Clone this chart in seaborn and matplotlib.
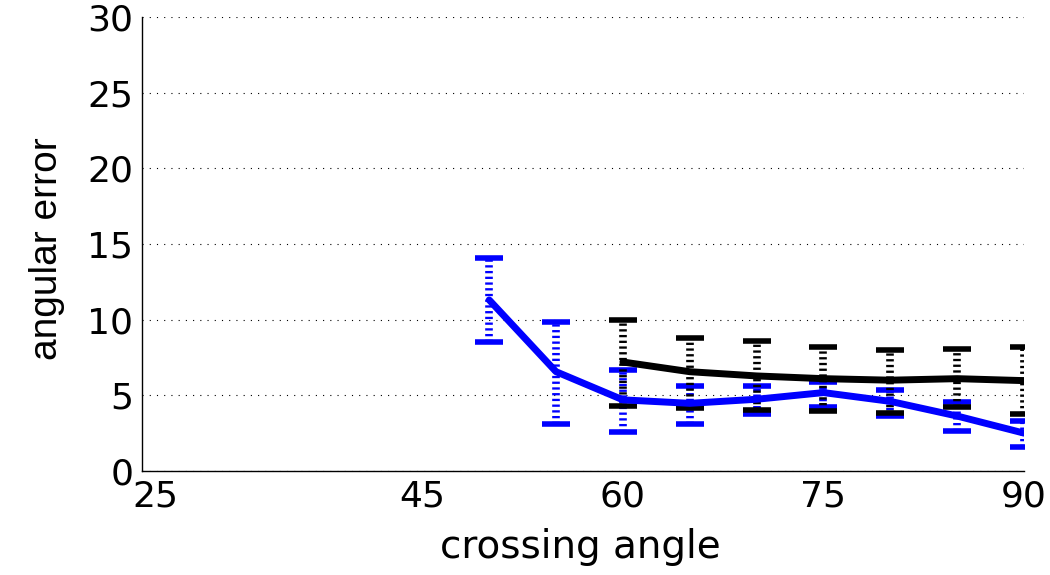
import numpy as np
import pandas as pd
import matplotlib
matplotlib.use('Agg')
import matplotlib.pyplot as plt
import seaborn as sns

# values
blue_x = [50, 55, 60, 65, 70, 75, 80, 85, 90]
blue_mean = [11.3, 6.56, 4.7, 4.47, 4.74, 5.18, 4.6, 3.63, 2.5]
blue_lo = [8.5, 3.13, 2.56, 3.1, 3.75, 4.25, 3.63, 2.64, 1.6]
blue_hi = [14.1, 9.83, 6.7, 5.6, 5.6, 5.9, 5.35, 4.56, 3.3]

black_x = [60, 65, 70, 75, 80, 85, 90]
black_mean = [7.2, 6.56, 6.28, 6.1, 6.0, 6.1, 5.97]
black_lo = [4.3, 4.14, 4.0, 3.97, 3.85, 4.2, 3.77]
black_hi = [10.0, 8.8, 8.6, 8.2, 8.0, 8.06, 8.2]

x_ticks = [25, 45, 60, 75, 90]
y_ticks = [0, 5, 10, 15, 20, 25, 30]

sns.set_style('white')
plt.rcParams['font.family'] = ['DejaVu Sans']
plt.rcParams['text.color'] = 'black'
plt.rcParams['axes.labelcolor'] = 'black'
plt.rcParams['xtick.color'] = 'black'
plt.rcParams['ytick.color'] = 'black'

df = pd.concat([
    pd.DataFrame({'angle': blue_x, 'err': blue_mean, 'method': 'blue'}),
    pd.DataFrame({'angle': black_x, 'err': black_mean, 'method': 'black'}),
])

fig = plt.figure(figsize=(10.5, 5.75), dpi=100)
ax = fig.add_axes([0.1348, 0.1809, 0.8405, 0.7896])

for xs, m, lo, hi, c in [(blue_x, blue_mean, blue_lo, blue_hi, '#0000ff'),
                         (black_x, black_mean, black_lo, black_hi, 'black')]:
    m = np.array(m)
    yerr = [m - np.array(lo), np.array(hi) - m]
    eb = ax.errorbar(xs, m, yerr=yerr, fmt='none', ecolor=c, elinewidth=5.5,
                     capsize=10, capthick=4, zorder=2)
    for col in eb[2]:
        col.set_linestyle((0, (0.3, 0.45)))
        col.set_capstyle('butt')

sns.lineplot(data=df, x='angle', y='err', hue='method',
             palette={'blue': '#0000ff', 'black': 'black'},
             linewidth=5, legend=False, ax=ax, zorder=3)

ax.set_xlim(24, 90)
ax.set_ylim(0, 30)
ax.set_xticks(x_ticks)
ax.set_yticks(y_ticks)
ax.yaxis.grid(True, linestyle=(0, (1, 5.5)), color='black', linewidth=0.8)
ax.xaxis.grid(False)
ax.set_axisbelow(True)
for s in ['top', 'right']:
    ax.spines[s].set_visible(False)
for s in ['left', 'bottom']:
    ax.spines[s].set_color('black')
    ax.spines[s].set_linewidth(1)
ax.tick_params(axis='x', direction='in', length=7, width=1, labelsize=26, pad=6)
ax.tick_params(axis='y', direction='in', length=0, labelsize=26, pad=6)
ax.set_xlabel('crossing angle', fontsize=28)
ax.set_ylabel('angular error', fontsize=28, family=['Liberation Sans', 'DejaVu Sans'])
ax.xaxis.set_label_coords(0.497, -0.125)
ax.yaxis.set_label_coords(-0.087, 0.49)

fig.savefig('out.png', dpi=100)
